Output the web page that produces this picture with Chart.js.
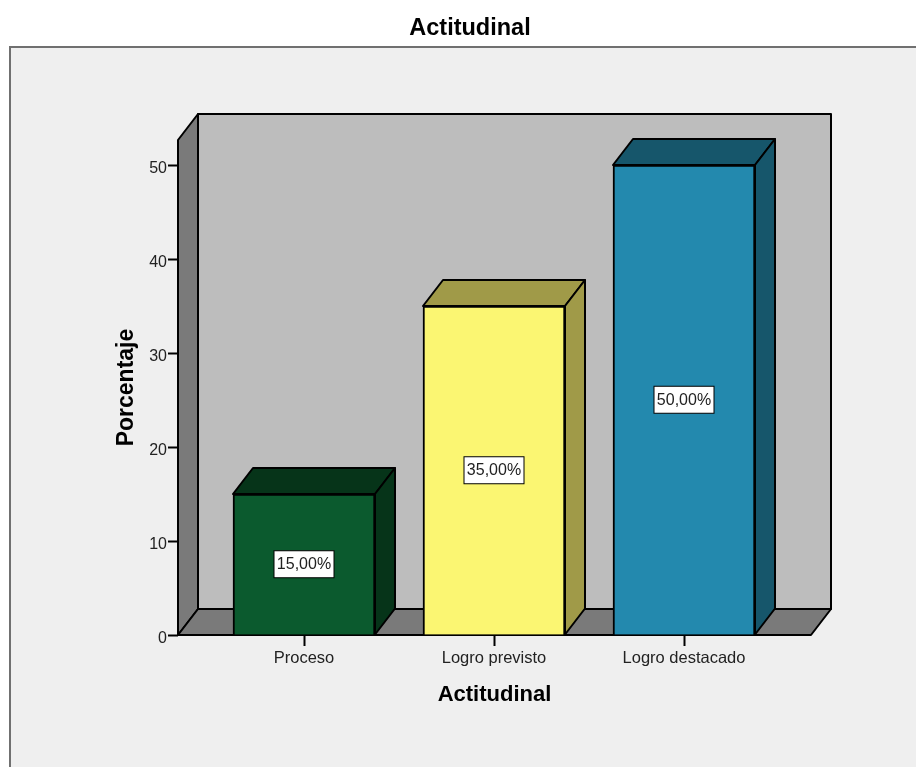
<!DOCTYPE html>
<html>
<head>
<meta charset="utf-8">
<title>Actitudinal</title>
<script src="https://cdn.jsdelivr.net/npm/chart.js@4"></script>
<style>
  html, body { margin: 0; background: #fff; overflow: hidden; }
  canvas { display: block; }
</style>
</head>
<body>
<canvas id="myChart" width="916" height="767"></canvas>
<script>
var chartTitle = "Actitudinal";
var categories = ["Proceso", "Logro previsto", "Logro destacado"];
var porcentajes = [15, 35, 50];
var yTicks = [0, 10, 20, 30, 40, 50];

var frontColors = ["#0b5a2e", "#fbf672", "#2389ae"];
var shadeColors = ["#063419", "#a09a48", "#16566b"];

// oblique offset of the 3D box, in pixels
var depthX = 20;
var depthY = -26;

function poly(ctx, pts, fill) {
  ctx.beginPath();
  ctx.moveTo(pts[0][0], pts[0][1]);
  for (var i = 1; i < pts.length; i++) {
    ctx.lineTo(pts[i][0], pts[i][1]);
  }
  ctx.closePath();
  ctx.fillStyle = fill;
  ctx.fill();
  ctx.stroke();
}

// grey panel behind everything, open on the right and at the bottom,
// with the heading above it
var framePlugin = {
  id: 'frame',
  beforeDraw: function(chart) {
    var ctx = chart.ctx;
    ctx.save();
    ctx.fillStyle = '#efefef';
    ctx.fillRect(9, 47, chart.width - 9, chart.height - 47);
    ctx.strokeStyle = '#707070';
    ctx.lineWidth = 2;
    ctx.beginPath();
    ctx.moveTo(10, chart.height);
    ctx.lineTo(10, 47);
    ctx.lineTo(chart.width, 47);
    ctx.stroke();
    ctx.fillStyle = '#000';
    ctx.font = 'bold 23.5px "Liberation Sans"';
    ctx.textAlign = 'center';
    ctx.textBaseline = 'middle';
    ctx.fillText(chartTitle, 470, 29);
    ctx.restore();
  }
};

// back wall, side wall, floor and the top and side faces of the bars
var boxPlugin = {
  id: 'box3d',
  beforeDatasetsDraw: function(chart) {
    var ctx = chart.ctx;
    var a = chart.chartArea;
    var l = a.left, r = a.right, t = a.top, b = a.bottom;
    ctx.save();
    ctx.strokeStyle = '#000';
    ctx.lineWidth = 2;
    ctx.lineJoin = 'round';
    poly(ctx, [[l + depthX, t + depthY], [r + depthX, t + depthY], [r + depthX, b + depthY], [l + depthX, b + depthY]], '#bdbdbd');
    poly(ctx, [[l, t], [l + depthX, t + depthY], [l + depthX, b + depthY], [l, b]], '#7a7a7a');
    poly(ctx, [[l, b], [l + depthX, b + depthY], [r + depthX, b + depthY], [r, b]], '#7a7a7a');

    chart.getDatasetMeta(0).data.forEach(function(bar, i) {
      var x0 = bar.x - bar.width / 2;
      var x1 = bar.x + bar.width / 2;
      poly(ctx, [[x0, bar.y], [x0 + depthX, bar.y + depthY], [x1 + depthX, bar.y + depthY], [x1, bar.y]], shadeColors[i]);
      poly(ctx, [[x1, bar.y], [x1 + depthX, bar.y + depthY], [x1 + depthX, bar.base + depthY], [x1, bar.base]], shadeColors[i]);
    });
    ctx.restore();
  },
  afterDatasetsDraw: function(chart) {
    var ctx = chart.ctx;
    ctx.save();
    ctx.font = '16px "Liberation Sans"';
    ctx.textAlign = 'center';
    ctx.textBaseline = 'middle';
    chart.getDatasetMeta(0).data.forEach(function(bar, i) {
      var label = porcentajes[i].toFixed(2).replace('.', ',') + '%';
      var cy = (bar.y + bar.base) / 2;
      ctx.fillStyle = '#fff';
      ctx.strokeStyle = '#000';
      ctx.lineWidth = 1;
      ctx.fillRect(bar.x - 30, cy - 13.5, 60, 27);
      ctx.strokeRect(bar.x - 30, cy - 13.5, 60, 27);
      ctx.fillStyle = '#222';
      ctx.fillText(label, bar.x, cy + 0.5);
    });
    ctx.restore();
  }
};

var ctx = document.getElementById('myChart').getContext('2d');
var chart = new Chart(ctx, {
  type: 'bar',
  data: {
    datasets: [{
      data: porcentajes.map(function(v, i) { return { x: i, y: v }; }),
      backgroundColor: frontColors,
      borderColor: '#000',
      borderWidth: 2,
      barThickness: 142
    }]
  },
  plugins: [framePlugin, boxPlugin],
  options: {
    responsive: false,
    animation: false,
    layout: { padding: { top: 140, right: 105, bottom: 0, left: 0 } },
    plugins: {
      legend: { display: false },
      tooltip: { enabled: false }
    },
    scales: {
      x: {
        type: 'linear',
        offset: false,
        // leaves the walls wider than the three bar slots
        min: -126 / 190,
        max: 2 + 127 / 190,
        afterBuildTicks: function(axis) {
          axis.ticks = categories.map(function(c, i) { return { value: i }; });
        },
        afterFit: function(axis) { axis.height = 132; },
        ticks: {
          autoSkip: false,
          maxRotation: 0,
          padding: 3,
          color: '#222',
          font: { family: '"Liberation Sans"', size: 16.5 },
          callback: function(v) { return categories[v]; }
        },
        grid: { offset: false, drawOnChartArea: false, tickLength: 11, tickColor: '#000', tickWidth: 2 },
        border: { display: false },
        title: {
          display: true,
          text: 'Actitudinal',
          color: '#000',
          font: { family: '"Liberation Sans"', size: 22, weight: 'bold' },
          padding: { top: 0, bottom: 59 }
        }
      },
      y: {
        min: 0,
        max: 52.66,
        afterBuildTicks: function(axis) {
          axis.ticks = yTicks.map(function(v) { return { value: v }; });
        },
        afterFit: function(axis) { axis.width = 178; },
        ticks: {
          padding: 1,
          labelOffset: 4,
          color: '#222',
          font: { family: '"Liberation Sans"', size: 16 }
        },
        grid: { drawOnChartArea: false, tickLength: 10, tickColor: '#000', tickWidth: 2 },
        border: { display: false },
        title: {
          display: true,
          text: 'Porcentaje',
          color: '#000',
          font: { family: '"Liberation Sans"', size: 23, weight: 'bold' },
          padding: { top: 113, bottom: 0 }
        }
      }
    }
  }
});
</script>
</body>
</html>
